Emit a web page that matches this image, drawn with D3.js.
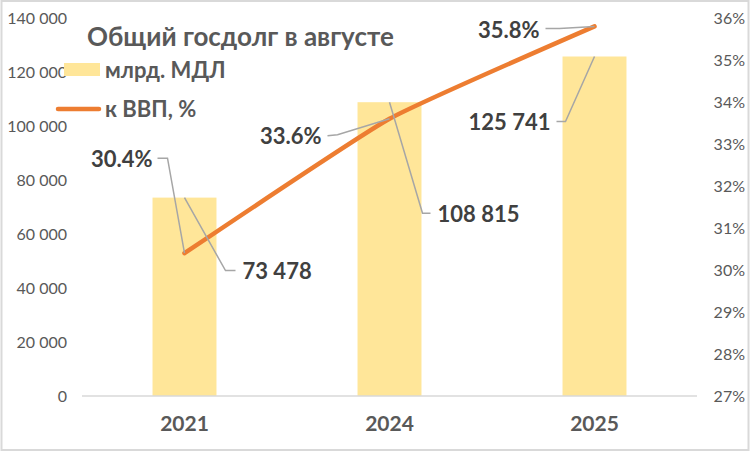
<!DOCTYPE html>
<html><head><meta charset="utf-8">
<script src="https://cdn.jsdelivr.net/npm/d3@7"></script>
<style>body{margin:0;background:#fff}svg{display:block}</style>
</head><body><svg id="c" width="751" height="452"></svg>
<script>
const years = ["2021", "2024", "2025"];
const debtMDL = [73478, 108815, 125741];
const debtPctGDP = [30.4, 33.6, 35.8];
const leftTicks = [0, 20000, 40000, 60000, 80000, 100000, 120000, 140000];
const rightTicks = [27, 28, 29, 30, 31, 32, 33, 34, 35, 36];
const title = "Общий госдолг в августе";
const legendBar = "млрд. МДЛ";
const legendLine = "к ВВП, %";

const svg = d3.select("#c");
const FONT = "Lato, 'Liberation Sans', sans-serif";
const axisCol = "#595959", labCol = "#404040";

svg.append("rect").attr("x", 1.5).attr("y", 1).attr("width", 747).attr("height", 449)
  .attr("fill", "#fff").attr("stroke", "#d9d9d9").attr("stroke-width", 2);

const x = d3.scaleBand().domain(years).range([82, 697]).paddingInner(0.688).paddingOuter(0.344);
const yL = d3.scaleLinear().domain([0, 140000]).range([396, 18]);
const yR = d3.scaleLinear().domain([27, 36]).range([396, 18]);
const cx = d => x(d) + x.bandwidth() / 2;
const fmt = v => d3.format(",")(v).replace(/,/g, " ");

// left axis
const gl = svg.append("g").attr("transform", "translate(67,0)")
  .call(d3.axisLeft(yL).tickValues(leftTicks).tickSize(0).tickPadding(0).tickFormat(fmt));
gl.select(".domain").remove();
gl.selectAll("text").attr("font-family", FONT).attr("font-size", 16).attr("fill", axisCol);

// right axis
const gr = svg.append("g").attr("transform", "translate(745,0)")
  .call(d3.axisLeft(yR).tickValues(rightTicks).tickSize(0).tickPadding(0).tickFormat(d => d + "%"));
gr.select(".domain").remove();
gr.selectAll("text").attr("font-family", FONT).attr("font-size", 16).attr("fill", axisCol);

// bars
svg.append("g").selectAll("rect").data(years).join("rect")
  .attr("x", d => x(d)).attr("width", x.bandwidth())
  .attr("y", (d, i) => yL(debtMDL[i])).attr("height", (d, i) => yL(0) - yL(debtMDL[i]))
  .attr("fill", "#FFE699");

// baseline
svg.append("line").attr("x1", 82).attr("x2", 697).attr("y1", yL(0)).attr("y2", yL(0))
  .attr("stroke", "#d9d9d9").attr("stroke-width", 1.5);

// x axis
const gx = svg.append("g").attr("transform", "translate(0,412)")
  .call(d3.axisBottom(x).tickSize(0).tickPadding(0));
gx.select(".domain").remove();
gx.selectAll("text").attr("font-family", FONT).attr("font-size", 21).attr("font-weight", "bold")
  .attr("fill", axisCol).attr("dy", "0.92em");

// line
const pts = years.map((d, i) => [cx(d), yR(debtPctGDP[i])]);
svg.append("path").attr("d", d3.line().curve(d3.curveCardinal.tension(0.6))(pts))
  .attr("fill", "none").attr("stroke", "#ED7D31").attr("stroke-width", 4.5).attr("stroke-linecap", "round");

// data labels with leader lines (offsets relative to anchors)
const lead = svg.append("g").attr("fill", "none").attr("stroke", "#a6a6a6").attr("stroke-width", 1.5);
const labs = svg.append("g").attr("font-family", FONT).attr("font-size", 22).attr("font-weight", "bold").attr("fill", labCol);
const pctLayout = [
  {tx: -32, ty: -94, anchor: "end", path: [[-27, -95], [-17, -95]]},
  {tx: -68, ty: 17, anchor: "end", path: [[-62, 17], [-52, 16]]},
  {tx: -55, ty: 4, anchor: "end", path: [[-49, 2], [-35, 2]]}
];
const valLayout = [
  {tx: 58, ty: 74, anchor: "start", path: [[51, 73], [41, 73]]},
  {tx: 48, ty: 112, anchor: "start", path: [[41, 111], [33, 111]]},
  {tx: -44, ty: 66, anchor: "end", path: [[-38, 65], [-29, 65]]}
];
years.forEach((d, i) => {
  const p = pts[i];
  const L = pctLayout[i];
  lead.append("path").attr("d", d3.line()([[p[0] + L.path[0][0], p[1] + L.path[0][1]], [p[0] + L.path[1][0], p[1] + L.path[1][1]], p]));
  labs.append("text").attr("x", p[0] + L.tx).attr("y", p[1] + L.ty).attr("dy", "0.35em")
    .attr("text-anchor", L.anchor).text(debtPctGDP[i].toFixed(1) + "%");
  const b = [cx(d), yL(debtMDL[i])];
  const V = valLayout[i];
  lead.append("path").attr("d", d3.line()([b, [b[0] + V.path[1][0], b[1] + V.path[1][1]], [b[0] + V.path[0][0], b[1] + V.path[0][1]]]));
  labs.append("text").attr("x", b[0] + V.tx).attr("y", b[1] + V.ty).attr("dy", "0.35em")
    .attr("text-anchor", V.anchor).text(fmt(debtMDL[i]));
});

// title
svg.append("text").attr("x", 87).attr("y", 46).attr("font-family", FONT).attr("font-size", 26)
  .attr("font-weight", "bold").attr("fill", axisCol).text(title);

// legend
svg.append("rect").attr("x", 64).attr("y", 63).attr("width", 36).attr("height", 13).attr("fill", "#FFE699");
svg.append("text").attr("x", 105).attr("y", 70).attr("dy", "0.35em").attr("font-family", FONT).attr("font-size", 22)
  .attr("font-weight", "bold").attr("fill", axisCol).text(legendBar);
svg.append("line").attr("x1", 58).attr("x2", 99).attr("y1", 109).attr("y2", 109)
  .attr("stroke", "#ED7D31").attr("stroke-width", 4.5).attr("stroke-linecap", "round");
svg.append("text").attr("x", 105).attr("y", 109).attr("dy", "0.35em").attr("font-family", FONT).attr("font-size", 22)
  .attr("font-weight", "bold").attr("fill", axisCol).text(legendLine);
</script></body></html>
